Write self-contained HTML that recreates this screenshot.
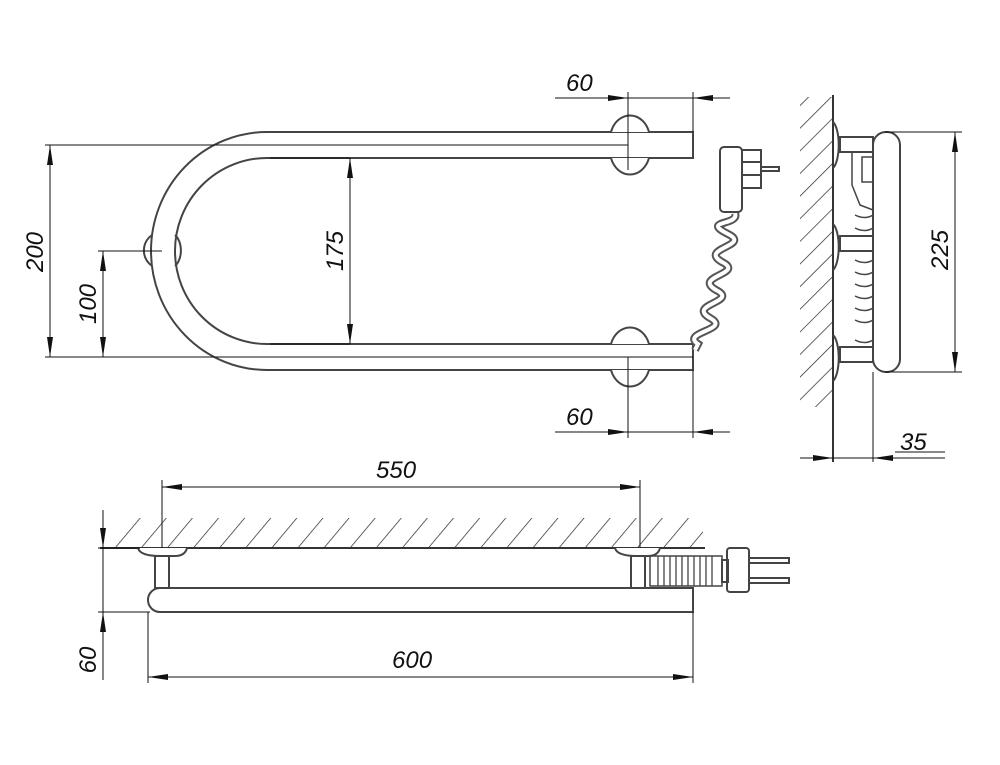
<!DOCTYPE html>
<html><head><meta charset="utf-8"><style>
html,body{margin:0;padding:0;background:#fff;}
svg{display:block}
text{font-family:"Liberation Sans",sans-serif;font-style:italic;font-size:24px;fill:#111;}
</style></head><body>
<svg width="1000" height="765" viewBox="0 0 1000 765" xmlns="http://www.w3.org/2000/svg">
<defs>
<marker id="a" viewBox="0 0 20 8" refX="20" refY="4" markerWidth="20" markerHeight="8" markerUnits="userSpaceOnUse" orient="auto-start-reverse">
<path d="M0,1 L20,4 L0,7 Z" fill="#111"/></marker>
<pattern id="h" width="20" height="20" patternUnits="userSpaceOnUse" patternTransform="rotate(40)">
<line x1="0" y1="0" x2="0" y2="20" stroke="#222" stroke-width="1.4"/></pattern>
<pattern id="h2" width="16" height="16" patternUnits="userSpaceOnUse" patternTransform="rotate(45)">
<line x1="0" y1="0" x2="0" y2="16" stroke="#222" stroke-width="1.4"/></pattern>
</defs>
<g fill="none" stroke="#444" stroke-width="2">
<path d="M693,132 L267,132 A116,119 0 0 0 267,370 L693,370 L693,344 L267,344 A92,93 0 0 1 267,158 L693,158 Z" fill="#fff"/>
<path d="M611,132 A20,24 0 0 1 649,132" fill="#fff"/>
<path d="M611,158 A20,24 0 0 0 649,158" fill="#fff"/>
<path d="M611,344 A20,24 0 0 1 649,344" fill="#fff"/>
<path d="M611,370 A20,24 0 0 0 649,370" fill="#fff"/>
<path d="M152,235 A22,20 0 0 0 152,266"/>
<path d="M175,235 A12,18 0 0 1 175,266"/>
<path id="coil" d="M735,213 C740,226 700,220 728,234 C752,246 698,248 722,262 C746,274 692,276 716,290 C740,302 686,304 710,318 C732,330 680,332 698,344 L695,350"/>
<use href="#coil" stroke="#555" stroke-width="8"/>
<use href="#coil" stroke="#fff" stroke-width="4"/>
<rect x="720" y="147" width="22" height="65" rx="4" fill="#fff"/>
<rect x="742" y="150" width="19" height="38" fill="#fff"/>
<line x1="742" y1="162" x2="761" y2="162"/><line x1="742" y1="175" x2="761" y2="175"/>
<rect x="761" y="167" width="18" height="4" fill="#fff"/>
<rect x="800" y="97" width="33" height="310" fill="url(#h2)" stroke="none"/>
<line x1="833" y1="95" x2="833" y2="462" stroke="#333"/>
<path d="M833,122 A8,24 0 0 1 833,168"/><path d="M833,224 A8,24 0 0 1 833,270"/><path d="M833,335 A8,24 0 0 1 833,381"/>
<rect x="840" y="137" width="33" height="15"/><rect x="840" y="236" width="33" height="15"/><rect x="840" y="347" width="33" height="15"/>
<path d="M852,152 L852,185 L860,205 L873,210" stroke-width="1.5"/>
<rect x="862" y="157" width="11" height="25" stroke-width="1.5"/>
<path d="M855,215 q10,5 18,0 M855,228 q10,5 18,0 M855,260 q10,5 18,0 M855,272 q10,5 18,0 M855,284 q10,5 18,0 M855,296 q10,5 18,0 M855,308 q10,5 18,0 M855,320 q10,5 18,0 M855,340 q10,5 18,0" stroke-width="1.5"/>
<rect x="873" y="132" width="27" height="240" rx="13" fill="#fff"/>
<rect x="115" y="518" width="588" height="30" fill="url(#h)" stroke="none"/>
<line x1="100" y1="548" x2="705" y2="548" stroke="#333"/>
<path d="M138,548 Q140,556 160,556 L175,556 Q185,556 187,548" fill="#fff"/>
<path d="M615,548 Q617,556 637,556 L648,556 Q658,556 660,548" fill="#fff"/>
<rect x="155" y="556" width="14" height="32"/><rect x="631" y="556" width="14" height="32"/>
<path d="M160,588 L693,588 L693,612 L160,612 A12,12 0 0 1 160,588 Z" fill="#fff"/>
<rect x="650" y="556" width="72" height="30" stroke-width="1.5"/>
<path d="M658,556 v30 M664,556 v30 M670,556 v30 M676,556 v30 M682,556 v30 M688,556 v30 M694,556 v30 M700,556 v30 M706,556 v30 M712,556 v30" stroke-width="1.3"/>
<rect x="727" y="548" width="22" height="44" rx="3" fill="#fff"/>
<rect x="722" y="560" width="6" height="22"/>
<rect x="749" y="558" width="40" height="5"/><rect x="749" y="578" width="40" height="5"/>
</g>
<g stroke="#111" stroke-width="1" fill="none">
<line x1="45" y1="145" x2="628" y2="145"/><line x1="45" y1="357" x2="693" y2="357"/>
<line x1="50" y1="145" x2="50" y2="357" marker-start="url(#a)" marker-end="url(#a)"/>
<line x1="98" y1="251" x2="162" y2="251"/>
<line x1="103" y1="251" x2="103" y2="357" marker-start="url(#a)" marker-end="url(#a)"/>
<line x1="270" y1="158" x2="350" y2="158"/><line x1="270" y1="344" x2="350" y2="344"/>
<line x1="350" y1="158" x2="350" y2="344" marker-start="url(#a)" marker-end="url(#a)"/>
<line x1="628" y1="92" x2="628" y2="170"/><line x1="693" y1="92" x2="693" y2="132"/>
<line x1="555" y1="98" x2="628" y2="98" marker-end="url(#a)"/><line x1="628" y1="98" x2="693" y2="98"/>
<line x1="730" y1="98" x2="693" y2="98" marker-end="url(#a)"/>
<line x1="628" y1="357" x2="628" y2="438"/><line x1="693" y1="370" x2="693" y2="438"/>
<line x1="555" y1="432" x2="628" y2="432" marker-end="url(#a)"/><line x1="628" y1="432" x2="693" y2="432"/>
<line x1="730" y1="432" x2="693" y2="432" marker-end="url(#a)"/>
<line x1="885" y1="132" x2="962" y2="132"/><line x1="885" y1="372" x2="962" y2="372"/>
<line x1="955" y1="132" x2="955" y2="372" marker-start="url(#a)" marker-end="url(#a)"/>
<line x1="873" y1="372" x2="873" y2="462"/>
<line x1="800" y1="458" x2="833" y2="458" marker-end="url(#a)"/><line x1="833" y1="458" x2="873" y2="458"/>
<line x1="945" y1="458" x2="873" y2="458" marker-end="url(#a)"/>
<line x1="895" y1="452" x2="945" y2="452"/>
<line x1="162" y1="480" x2="162" y2="548"/><line x1="640" y1="480" x2="640" y2="548"/>
<line x1="162" y1="487" x2="640" y2="487" marker-start="url(#a)" marker-end="url(#a)"/>
<line x1="148" y1="612" x2="148" y2="683"/><line x1="693" y1="612" x2="693" y2="683"/>
<line x1="148" y1="677" x2="693" y2="677" marker-start="url(#a)" marker-end="url(#a)"/>
<line x1="98" y1="548" x2="140" y2="548"/><line x1="98" y1="612" x2="150" y2="612"/>
<line x1="103" y1="510" x2="103" y2="548" marker-end="url(#a)"/><line x1="103" y1="548" x2="103" y2="612"/>
<line x1="103" y1="680" x2="103" y2="612" marker-end="url(#a)"/>
</g>
<text x="566" y="91">60</text>
<text x="566" y="425">60</text>
<text x="900" y="450">35</text>
<text x="376" y="478">550</text>
<text x="392" y="668">600</text>
<text transform="translate(43,252) rotate(-90)" text-anchor="middle">200</text>
<text transform="translate(96,304) rotate(-90)" text-anchor="middle">100</text>
<text transform="translate(343,251) rotate(-90)" text-anchor="middle">175</text>
<text transform="translate(948,250) rotate(-90)" text-anchor="middle">225</text>
<text transform="translate(96,660) rotate(-90)" text-anchor="middle">60</text>
</svg>
</body></html>
